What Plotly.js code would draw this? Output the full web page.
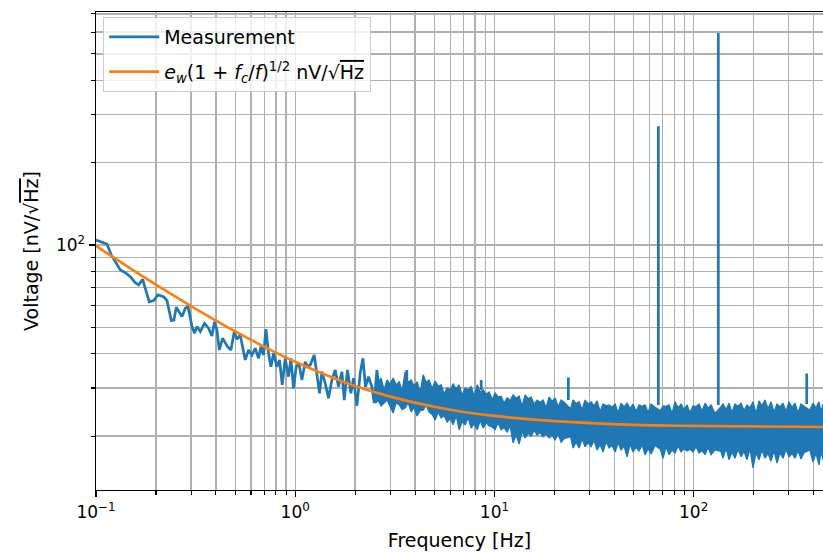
<!DOCTYPE html>
<html>
<head>
<meta charset="utf-8">
<script src="https://cdn.plot.ly/plotly-3.0.1.min.js"></script>
<style>html,body{margin:0;padding:0;background:#fff;}</style>
</head>
<body>
<div id="chart" style="width:823px;height:552px;"></div>
<script>
// Measurement, low-frequency part (Hz, nV/sqrt(Hz))
const lowFreq = [0.1,0.1135,0.1193,0.1324,0.1403,0.1486,0.1574,0.1637,0.1714,0.1782,0.1851,0.1945,0.2047,0.2184,0.2272,0.2388,0.2462,0.2529,0.2618,0.2702,0.2807,0.2897,0.3033,0.3126,0.3213,0.3337,0.3507,0.3673,0.3819,0.3936,0.4046,0.4159,0.4318,0.4574,0.4758,0.4942,0.5099,0.5297,0.5611,0.5830,0.6064,0.6302,0.6545,0.6728,0.6934,0.7128,0.7346,0.7554,0.7784,0.8094,0.8340,0.8605,0.8908,0.9255,0.9515,0.9806,1.0116,1.0437,1.0805,1.1225,1.1527,1.1891,1.2457,1.2850,1.3243,1.3614,1.4146,1.4694,1.5281,1.5870,1.6492,1.7153,1.7620,1.8300,1.9032,1.9618,2.0392,2.1194,2.1866,2.2531,2.3321,2.4263,2.4918,2.5704,2.6704];
const lowVal = [104.3,100.8,91.9,81.0,79.2,76.6,72.8,71.4,74.9,68.5,62.0,62.6,65.7,64.7,62.6,52.9,53.2,59.2,57.0,54.7,58.7,59.5,50.3,47.6,50.3,48.2,51.7,49.6,46.5,52.4,48.9,41.3,45.6,42.5,41.3,48.2,45.2,46.9,38.0,41.3,39.6,41.9,38.5,42.5,39.6,49.2,40.2,35.9,40.2,35.9,38.0,30.8,38.5,33.0,38.5,29.9,35.9,36.9,32.1,37.4,35.9,36.4,39.6,33.0,28.7,34.4,31.2,27.5,32.1,34.9,30.3,34.4,27.1,34.9,28.7,32.6,25.8,34.0,38.5,30.3,33.0,30.3,26.4,34.9,27.1];

// Measurement, dense noise band: outer points of upper and lower edges
const bandFreq = [2.52,2.70,2.89,3.10,3.33,3.56,3.82,4.09,4.39,4.70,5.04,5.40,5.79,6.21,6.65,7.13,7.64,8.19,8.78,9.41,10.08,10.80,11.58,12.41,13.30,14.26,15.28,16.38,17.55,18.82,20.17,21.61,24.83,26.61,28.52,30.57,32.76,35.11,37.63,40.33,43.22,46.33,49.65,53.21,57.03,61.14,70.23,75.27,80.67,86.46,92.66,99.31,106.4,114.1,122.3,140.4,150.5,161.3,172.9,185.3,198.6,212.8,228.1,244.5,262.1,280.9,301.1,322.7,345.8,397.2,425.8,446];
const bandHigh = [33.0,32.6,32.1,32.6,31.6,34.3,32.1,31.6,33.5,32.1,31.8,30.8,30.0,31.0,30.8,30.0,30.3,30.8,29.5,29.0,28.75,28.0,27.6,28.3,28.0,28.3,27.8,27.1,27.1,27.8,27.6,27.1,27.1,26.7,27.1,26.7,26.9,26.2,26.0,26.2,26.4,26.4,26.2,26.0,26.0,26.2,25.8,26.0,26.7,26.2,26.0,25.8,26.2,26.4,26.0,26.2,26.4,26.2,26.4,26.0,26.7,26.9,27.1,26.7,26.2,26.4,26.7,26.4,26.2,26.4,26.7,26.2];
const bandLow = [26.4,25.8,27.1,24.3,26.0,25.35,24.5,23.7,24.9,24.5,22.9,23.3,22.5,22.0,21.1,22.0,21.4,21.1,21.4,21.8,21.1,21.1,20.7,18.9,18.7,19.7,20.0,20.2,19.9,19.7,19.4,19.0,18.1,18.1,18.3,18.3,17.8,17.5,18.1,17.5,17.8,16.8,17.5,17.65,17.1,17.2,16.6,17.1,17.35,17.5,17.65,17.5,17.35,17.1,17.1,16.6,16.4,16.6,16.8,16.4,15.3,16.4,16.6,16.2,15.95,16.6,16.8,16.6,16.5,16.1,15.7,16.4];

// Measurement, dense noise band: inner points between the outer ones
const notchFreq = [2.61,2.79,2.99,3.21,3.44,3.69,3.95,4.24,4.54,4.87,5.22,5.59,6.00,6.43,6.89,7.38,7.91,8.48,9.09,9.74,10.43,11.18,11.99,12.85,13.77,14.76,15.82,16.96,18.17,19.48,20.88,22.4,24.1,25.70,27.55,29.53,31.65,33.92,36.35,38.96,41.75,44.75,47.96,51.40,55.09,59.05,64.0,68.0,72.71,77.92,83.52,89.51,95.93,102.8,110.2,118.1,128.0,137.0,145.4,155.8,167.0,179.0,191.8,205.6,220.3,236.2,253.2,271.3,290.8,311.7,334.0,358,383,411.3,436];
const notchHigh = [31.5,29.5,31.0,30.8,29.2,31.5,30.5,29.0,31.5,29.8,30.5,28.5,29.6,29.8,28.2,29.5,28.0,29.0,28.5,27.2,27.8,26.4,27.0,27.5,25.8,27.4,26.2,26.6,25.4,26.8,25.6,26.6,25.2,26.3,25.0,26.2,25.8,24.6,25.8,25.5,24.3,25.6,25.2,24.6,25.7,24.4,25.5,24.8,25.7,24.2,25.4,25.0,24.4,25.6,24.7,25.3,24.2,25.6,25.0,24.4,25.7,24.8,25.4,24.2,25.8,25.2,24.5,25.6,24.6,25.5,24.3,25.7,24.9,25.4,24.5];
const notchLow = [27.0,26.5,25.8,26.5,25.0,26.5,25.5,24.8,26.0,24.0,24.5,23.8,23.2,23.8,22.6,23.4,22.2,22.8,22.4,21.6,22.4,21.5,21.8,20.2,20.8,20.5,21.0,20.6,20.4,20.1,20.3,19.6,19.9,19.0,19.5,18.9,19.3,18.6,19.1,18.5,18.9,18.4,18.7,18.2,18.6,18.0,18.5,17.9,18.3,17.8,18.4,18.0,17.9,18.3,17.7,18.2,17.8,17.6,18.1,17.5,17.9,17.6,18.0,17.4,17.8,17.3,17.7,17.4,17.9,17.3,17.7,17.4,17.8,17.3,17.6];

// Narrow lines in the measurement
const spikeFreq = [3.63,8.58,23.5,66.5,133.0,369.5];
const spikeBase = [31.0,29.5,27.1,26.0,26.0,26.2];
const spikeTop = [34.9,32.1,32.8,272,596,33.9];

// Fit e_w (1 + f_c/f)^(1/2)
const fitFreq = [0.1,0.15,0.2,0.3,0.5,0.7,1,1.5,2,3,5,7,10,20,50,100,200,446];
const fitVal = [99.2,81.8,71.6,59.8,48.3,42.4,37.4,33.0,30.5,27.9,25.6,24.5,23.7,22.7,22.0,21.8,21.7,21.6];

const xMajor = [0.1,1,10,100];
const xMajorText = ['10<sup>−1</sup>','10<sup>0</sup>','10<sup>1</sup>','10<sup>2</sup>'];
const xMinor = [0.2,0.3,0.4,0.5,0.6,0.7,0.8,0.9,2,3,4,5,6,7,8,9,20,30,40,50,60,70,80,90,200,300,400];
const yMajor = [100];
const yMajorText = ['10<sup>2</sup>'];
const yMinor = [20,30,40,50,60,70,80,90,200,300,400,500,600,700];

const BLUE = '#1f77b4', ORANGE = '#ff7f0e';

// merge outer and inner points of the band edges, ordered by frequency
function mergeEdge(fa, va, fb, vb) {
  const pts = fa.map((f,i)=>[f, va[i]]).concat(fb.map((f,i)=>[f, vb[i]]));
  pts.sort((a,b)=>a[0]-b[0]);
  return {x: pts.map(p=>p[0]), y: pts.map(p=>p[1])};
}
const hiEdge = mergeEdge(bandFreq, bandHigh, notchFreq, notchHigh);
const loEdge = mergeEdge(bandFreq, bandLow, notchFreq, notchLow);

const spX = [], spY = [];
spikeFreq.forEach((f,i)=>{ spX.push(f,f,null); spY.push(spikeBase[i], spikeTop[i], null); });

const traces = [
  {x: lowFreq, y: lowVal, mode:'lines', name:'Measurement', legendgroup:'m', line:{color:BLUE, width:2.7}, showlegend:true},
  {x: loEdge.x, y: loEdge.y, mode:'lines', legendgroup:'m', line:{color:BLUE, width:1.3}, showlegend:false},
  {x: hiEdge.x, y: hiEdge.y, mode:'lines', legendgroup:'m', fill:'tonexty', fillcolor:BLUE, line:{color:BLUE, width:1.3}, showlegend:false},
  {x: spX, y: spY, mode:'lines', legendgroup:'m', line:{color:BLUE, width:2.7}, showlegend:false, connectgaps:false},
  {x: fitFreq, y: fitVal, mode:'lines', legendgroup:'f', line:{color:ORANGE, width:2.7, shape:'spline'},
   name:"<i>e</i><sub><i>w</i></sub>(1 + <i>f</i><sub><i>c</i></sub>/<i>f</i>)<sup>1/2</sup> nV/√<span style='text-decoration:overline'>Hz</span>"}
];

const font = {family:'"DejaVu Sans", sans-serif', color:'#000'};

const layout = {
  width:823, height:552,
  margin:{l:96, r:0, t:12, b:62},
  paper_bgcolor:'#fff', plot_bgcolor:'#fff',
  font: Object.assign({size:18}, font),
  showlegend:true,
  hovermode:false,
  xaxis:{
    type:'log', range:[-1, 2.6493],
    tickmode:'array', tickvals:xMajor, ticktext:xMajorText,
    ticks:'outside', ticklen:6, tickwidth:1.4, tickcolor:'#000',
    showline:true, linecolor:'#000', linewidth:1.4, mirror:true,
    showgrid:true, gridcolor:'#b0b0b0', gridwidth:1.4,
    zeroline:false,
    tickfont:Object.assign({size:17}, font),
    minor:{tickmode:'array', tickvals:xMinor, ticks:'outside', ticklen:3.5, tickwidth:1.1, tickcolor:'#000', showgrid:true, gridcolor:'#b0b0b0', gridwidth:1.4},
    title:{text:'Frequency [Hz]', font:Object.assign({size:19}, font), standoff:13}
  },
  yaxis:{
    type:'log', range:[1.104, 2.852],
    tickmode:'array', tickvals:yMajor, ticktext:yMajorText,
    ticks:'outside', ticklen:6, tickwidth:1.4, tickcolor:'#000',
    showline:true, linecolor:'#000', linewidth:1.4, mirror:false,
    showgrid:true, gridcolor:'#b0b0b0', gridwidth:1.4,
    zeroline:false,
    tickfont:Object.assign({size:17}, font),
    minor:{tickmode:'array', tickvals:yMinor, ticks:'outside', ticklen:3.5, tickwidth:1.1, tickcolor:'#000', showgrid:true, gridcolor:'#b0b0b0', gridwidth:1.4},
    title:{text:"Voltage [nV/√<span style='text-decoration:overline'>Hz</span>]", font:Object.assign({size:19}, font), standoff:12}
  },
  legend:{
    x:0.0096, y:0.99, xanchor:'left', yanchor:'top',
    traceorder:'grouped', tracegroupgap:7, itemwidth:50,
    bgcolor:'rgba(255,255,255,0.8)', bordercolor:'#cccccc', borderwidth:1.2,
    font:Object.assign({size:19}, font)
  }
};

Plotly.newPlot('chart', traces, layout, {staticPlot:true, displayModeBar:false});
</script>
</body>
</html>
